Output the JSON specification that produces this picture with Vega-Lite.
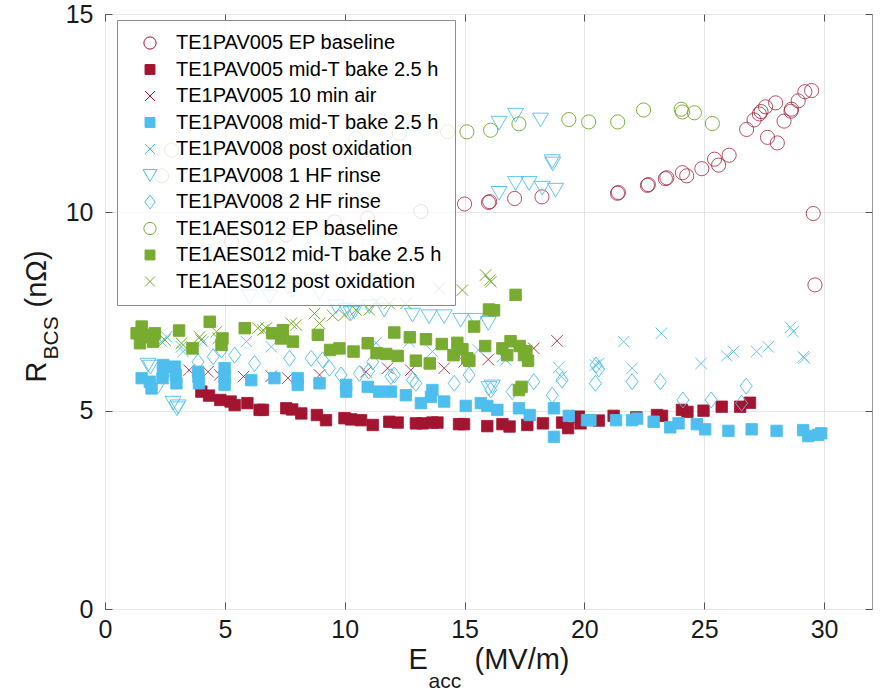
{
"$schema": "https://vega.github.io/schema/vega-lite/v6.json",
"width": 767, "height": 595,
"autosize": {"type": "none"},
"padding": {"left": 105, "top": 14, "right": 9, "bottom": 87},
"background": "white",
"config": {"font": "Liberation Sans", "view": {"stroke": "#999999", "strokeWidth": 1},
  "axis": {"labelFont": "Liberation Sans", "titleFont": "Liberation Sans", "titleFontWeight": "normal", "labelColor": "#1a1a1a", "titleColor": "#1a1a1a", "tickColor": "#555555", "gridColor": "#e6e6e6", "gridWidth": 1, "labelFlush": false}},
"datasets": {
"dummy": [{"E": 0, "R": 0}],
"pts": [
{"s":"TE1PAV005 EP baseline","E":5.27,"R":9.26},{"s":"TE1PAV005 EP baseline","E":7.56,"R":9.43},{"s":"TE1PAV005 EP baseline","E":9.57,"R":9.76},{"s":"TE1PAV005 EP baseline","E":10.96,"R":9.85},{"s":"TE1PAV005 EP baseline","E":13.18,"R":10.02},{"s":"TE1PAV005 EP baseline","E":15.0,"R":10.21},{"s":"TE1PAV005 EP baseline","E":16.0,"R":10.25},{"s":"TE1PAV005 EP baseline","E":16.05,"R":10.27},{"s":"TE1PAV005 EP baseline","E":17.09,"R":10.35},{"s":"TE1PAV005 EP baseline","E":18.23,"R":10.39},{"s":"TE1PAV005 EP baseline","E":21.38,"R":10.48},{"s":"TE1PAV005 EP baseline","E":21.42,"R":10.5},{"s":"TE1PAV005 EP baseline","E":22.63,"R":10.68},{"s":"TE1PAV005 EP baseline","E":22.67,"R":10.7},{"s":"TE1PAV005 EP baseline","E":23.38,"R":10.85},{"s":"TE1PAV005 EP baseline","E":23.44,"R":10.87},{"s":"TE1PAV005 EP baseline","E":24.09,"R":11.0},{"s":"TE1PAV005 EP baseline","E":24.27,"R":10.92},{"s":"TE1PAV005 EP baseline","E":24.9,"R":11.1},{"s":"TE1PAV005 EP baseline","E":25.43,"R":11.34},{"s":"TE1PAV005 EP baseline","E":25.6,"R":11.19},{"s":"TE1PAV005 EP baseline","E":26.04,"R":11.44},{"s":"TE1PAV005 EP baseline","E":26.77,"R":12.09},{"s":"TE1PAV005 EP baseline","E":27.08,"R":12.33},{"s":"TE1PAV005 EP baseline","E":27.3,"R":12.48},{"s":"TE1PAV005 EP baseline","E":27.37,"R":12.54},{"s":"TE1PAV005 EP baseline","E":27.56,"R":12.66},{"s":"TE1PAV005 EP baseline","E":27.98,"R":12.76},{"s":"TE1PAV005 EP baseline","E":27.64,"R":11.89},{"s":"TE1PAV005 EP baseline","E":28.05,"R":11.75},{"s":"TE1PAV005 EP baseline","E":28.33,"R":12.3},{"s":"TE1PAV005 EP baseline","E":28.62,"R":12.55},{"s":"TE1PAV005 EP baseline","E":28.64,"R":12.6},{"s":"TE1PAV005 EP baseline","E":28.92,"R":12.81},{"s":"TE1PAV005 EP baseline","E":29.2,"R":13.04},{"s":"TE1PAV005 EP baseline","E":29.48,"R":13.07},{"s":"TE1PAV005 EP baseline","E":29.55,"R":9.97},{"s":"TE1PAV005 EP baseline","E":29.62,"R":8.17},
{"s":"TE1PAV005 mid-T bake 2.5 h","E":4.02,"R":5.48},{"s":"TE1PAV005 mid-T bake 2.5 h","E":4.34,"R":5.38},{"s":"TE1PAV005 mid-T bake 2.5 h","E":4.81,"R":5.27},{"s":"TE1PAV005 mid-T bake 2.5 h","E":5.24,"R":5.23},{"s":"TE1PAV005 mid-T bake 2.5 h","E":5.41,"R":5.14},{"s":"TE1PAV005 mid-T bake 2.5 h","E":5.94,"R":5.19},{"s":"TE1PAV005 mid-T bake 2.5 h","E":6.45,"R":5.02},{"s":"TE1PAV005 mid-T bake 2.5 h","E":6.59,"R":5.02},{"s":"TE1PAV005 mid-T bake 2.5 h","E":7.56,"R":5.06},{"s":"TE1PAV005 mid-T bake 2.5 h","E":7.81,"R":5.03},{"s":"TE1PAV005 mid-T bake 2.5 h","E":8.19,"R":4.93},{"s":"TE1PAV005 mid-T bake 2.5 h","E":8.84,"R":4.89},{"s":"TE1PAV005 mid-T bake 2.5 h","E":9.22,"R":4.76},{"s":"TE1PAV005 mid-T bake 2.5 h","E":9.99,"R":4.81},{"s":"TE1PAV005 mid-T bake 2.5 h","E":10.27,"R":4.78},{"s":"TE1PAV005 mid-T bake 2.5 h","E":10.68,"R":4.76},{"s":"TE1PAV005 mid-T bake 2.5 h","E":11.17,"R":4.64},{"s":"TE1PAV005 mid-T bake 2.5 h","E":11.86,"R":4.72},{"s":"TE1PAV005 mid-T bake 2.5 h","E":12.21,"R":4.7},{"s":"TE1PAV005 mid-T bake 2.5 h","E":12.97,"R":4.68},{"s":"TE1PAV005 mid-T bake 2.5 h","E":13.25,"R":4.68},{"s":"TE1PAV005 mid-T bake 2.5 h","E":13.66,"R":4.7},{"s":"TE1PAV005 mid-T bake 2.5 h","E":13.87,"R":4.7},{"s":"TE1PAV005 mid-T bake 2.5 h","E":14.77,"R":4.66},{"s":"TE1PAV005 mid-T bake 2.5 h","E":14.98,"R":4.66},{"s":"TE1PAV005 mid-T bake 2.5 h","E":15.95,"R":4.61},{"s":"TE1PAV005 mid-T bake 2.5 h","E":16.58,"R":4.66},{"s":"TE1PAV005 mid-T bake 2.5 h","E":16.88,"R":4.6},{"s":"TE1PAV005 mid-T bake 2.5 h","E":17.62,"R":4.64},{"s":"TE1PAV005 mid-T bake 2.5 h","E":18.27,"R":4.68},{"s":"TE1PAV005 mid-T bake 2.5 h","E":19.07,"R":4.7},{"s":"TE1PAV005 mid-T bake 2.5 h","E":19.32,"R":4.56},{"s":"TE1PAV005 mid-T bake 2.5 h","E":19.77,"R":4.85},{"s":"TE1PAV005 mid-T bake 2.5 h","E":19.84,"R":4.68},{"s":"TE1PAV005 mid-T bake 2.5 h","E":20.6,"R":4.75},{"s":"TE1PAV005 mid-T bake 2.5 h","E":21.22,"R":4.87},{"s":"TE1PAV005 mid-T bake 2.5 h","E":22.17,"R":4.83},{"s":"TE1PAV005 mid-T bake 2.5 h","E":23.03,"R":4.89},{"s":"TE1PAV005 mid-T bake 2.5 h","E":23.24,"R":4.87},{"s":"TE1PAV005 mid-T bake 2.5 h","E":24.07,"R":5.02},{"s":"TE1PAV005 mid-T bake 2.5 h","E":24.3,"R":4.97},{"s":"TE1PAV005 mid-T bake 2.5 h","E":24.97,"R":5.0},{"s":"TE1PAV005 mid-T bake 2.5 h","E":25.73,"R":5.1},{"s":"TE1PAV005 mid-T bake 2.5 h","E":26.5,"R":5.1},{"s":"TE1PAV005 mid-T bake 2.5 h","E":26.91,"R":5.2},
{"s":"TE1PAV005 10 min air","E":2.43,"R":6.02},{"s":"TE1PAV005 10 min air","E":3.51,"R":6.02},{"s":"TE1PAV005 10 min air","E":4.3,"R":5.98},{"s":"TE1PAV005 10 min air","E":4.79,"R":5.9},{"s":"TE1PAV005 10 min air","E":5.78,"R":5.86},{"s":"TE1PAV005 10 min air","E":6.94,"R":5.87},{"s":"TE1PAV005 10 min air","E":7.63,"R":5.82},{"s":"TE1PAV005 10 min air","E":8.95,"R":5.9},{"s":"TE1PAV005 10 min air","E":10.89,"R":5.98},{"s":"TE1PAV005 10 min air","E":11.79,"R":6.07},{"s":"TE1PAV005 10 min air","E":12.76,"R":6.02},{"s":"TE1PAV005 10 min air","E":14.15,"R":6.07},{"s":"TE1PAV005 10 min air","E":14.98,"R":6.23},{"s":"TE1PAV005 10 min air","E":15.99,"R":6.29},{"s":"TE1PAV005 10 min air","E":17.89,"R":6.57},{"s":"TE1PAV005 10 min air","E":18.86,"R":6.76},
{"s":"TE1PAV008 mid-T bake 2.5 h","E":1.53,"R":5.82},{"s":"TE1PAV008 mid-T bake 2.5 h","E":1.87,"R":5.73},{"s":"TE1PAV008 mid-T bake 2.5 h","E":1.94,"R":5.56},{"s":"TE1PAV008 mid-T bake 2.5 h","E":2.43,"R":6.15},{"s":"TE1PAV008 mid-T bake 2.5 h","E":2.42,"R":5.98},{"s":"TE1PAV008 mid-T bake 2.5 h","E":2.4,"R":5.82},{"s":"TE1PAV008 mid-T bake 2.5 h","E":2.91,"R":6.11},{"s":"TE1PAV008 mid-T bake 2.5 h","E":2.95,"R":5.9},{"s":"TE1PAV008 mid-T bake 2.5 h","E":2.98,"R":5.69},{"s":"TE1PAV008 mid-T bake 2.5 h","E":3.88,"R":5.98},{"s":"TE1PAV008 mid-T bake 2.5 h","E":3.9,"R":5.85},{"s":"TE1PAV008 mid-T bake 2.5 h","E":3.92,"R":5.69},{"s":"TE1PAV008 mid-T bake 2.5 h","E":4.99,"R":6.07},{"s":"TE1PAV008 mid-T bake 2.5 h","E":4.99,"R":5.85},{"s":"TE1PAV008 mid-T bake 2.5 h","E":4.99,"R":5.65},{"s":"TE1PAV008 mid-T bake 2.5 h","E":6.1,"R":5.77},{"s":"TE1PAV008 mid-T bake 2.5 h","E":7.07,"R":5.82},{"s":"TE1PAV008 mid-T bake 2.5 h","E":8.04,"R":5.82},{"s":"TE1PAV008 mid-T bake 2.5 h","E":8.04,"R":5.65},{"s":"TE1PAV008 mid-T bake 2.5 h","E":8.95,"R":5.69},{"s":"TE1PAV008 mid-T bake 2.5 h","E":10.06,"R":5.65},{"s":"TE1PAV008 mid-T bake 2.5 h","E":10.06,"R":5.48},{"s":"TE1PAV008 mid-T bake 2.5 h","E":10.96,"R":5.6},{"s":"TE1PAV008 mid-T bake 2.5 h","E":11.44,"R":5.48},{"s":"TE1PAV008 mid-T bake 2.5 h","E":11.93,"R":5.48},{"s":"TE1PAV008 mid-T bake 2.5 h","E":12.55,"R":5.39},{"s":"TE1PAV008 mid-T bake 2.5 h","E":13.18,"R":5.19},{"s":"TE1PAV008 mid-T bake 2.5 h","E":13.6,"R":5.35},{"s":"TE1PAV008 mid-T bake 2.5 h","E":13.66,"R":5.52},{"s":"TE1PAV008 mid-T bake 2.5 h","E":14.15,"R":5.23},{"s":"TE1PAV008 mid-T bake 2.5 h","E":15.05,"R":5.12},{"s":"TE1PAV008 mid-T bake 2.5 h","E":15.68,"R":5.19},{"s":"TE1PAV008 mid-T bake 2.5 h","E":15.95,"R":5.12},{"s":"TE1PAV008 mid-T bake 2.5 h","E":16.37,"R":5.02},{"s":"TE1PAV008 mid-T bake 2.5 h","E":17.27,"R":5.06},{"s":"TE1PAV008 mid-T bake 2.5 h","E":17.72,"R":4.89},{"s":"TE1PAV008 mid-T bake 2.5 h","E":18.73,"R":5.06},{"s":"TE1PAV008 mid-T bake 2.5 h","E":18.73,"R":4.34},{"s":"TE1PAV008 mid-T bake 2.5 h","E":19.35,"R":4.87},{"s":"TE1PAV008 mid-T bake 2.5 h","E":20.11,"R":4.76},{"s":"TE1PAV008 mid-T bake 2.5 h","E":20.25,"R":4.76},{"s":"TE1PAV008 mid-T bake 2.5 h","E":21.32,"R":4.76},{"s":"TE1PAV008 mid-T bake 2.5 h","E":21.99,"R":4.76},{"s":"TE1PAV008 mid-T bake 2.5 h","E":22.2,"R":4.8},{"s":"TE1PAV008 mid-T bake 2.5 h","E":22.89,"R":4.72},{"s":"TE1PAV008 mid-T bake 2.5 h","E":23.58,"R":4.58},{"s":"TE1PAV008 mid-T bake 2.5 h","E":23.93,"R":4.68},{"s":"TE1PAV008 mid-T bake 2.5 h","E":24.69,"R":4.66},{"s":"TE1PAV008 mid-T bake 2.5 h","E":25.04,"R":4.53},{"s":"TE1PAV008 mid-T bake 2.5 h","E":26.01,"R":4.49},{"s":"TE1PAV008 mid-T bake 2.5 h","E":26.98,"R":4.53},{"s":"TE1PAV008 mid-T bake 2.5 h","E":28.02,"R":4.49},{"s":"TE1PAV008 mid-T bake 2.5 h","E":29.13,"R":4.51},{"s":"TE1PAV008 mid-T bake 2.5 h","E":29.34,"R":4.36},{"s":"TE1PAV008 mid-T bake 2.5 h","E":29.75,"R":4.39},{"s":"TE1PAV008 mid-T bake 2.5 h","E":29.88,"R":4.43},
{"s":"TE1PAV008 post oxidation","E":2.36,"R":6.74},{"s":"TE1PAV008 post oxidation","E":2.57,"R":6.86},{"s":"TE1PAV008 post oxidation","E":3.19,"R":6.61},{"s":"TE1PAV008 post oxidation","E":3.26,"R":6.49},{"s":"TE1PAV008 post oxidation","E":4.09,"R":6.74},{"s":"TE1PAV008 post oxidation","E":5.9,"R":6.74},{"s":"TE1PAV008 post oxidation","E":6.94,"R":6.61},{"s":"TE1PAV008 post oxidation","E":11.31,"R":6.71},{"s":"TE1PAV008 post oxidation","E":12.69,"R":6.74},{"s":"TE1PAV008 post oxidation","E":13.66,"R":6.49},{"s":"TE1PAV008 post oxidation","E":15.58,"R":6.53},{"s":"TE1PAV008 post oxidation","E":16.58,"R":6.36},{"s":"TE1PAV008 post oxidation","E":16.72,"R":6.28},{"s":"TE1PAV008 post oxidation","E":18.93,"R":6.09},{"s":"TE1PAV008 post oxidation","E":19.04,"R":5.86},{"s":"TE1PAV008 post oxidation","E":20.46,"R":6.15},{"s":"TE1PAV008 post oxidation","E":20.6,"R":6.19},{"s":"TE1PAV008 post oxidation","E":21.64,"R":6.74},{"s":"TE1PAV008 post oxidation","E":21.99,"R":6.07},{"s":"TE1PAV008 post oxidation","E":23.21,"R":6.95},{"s":"TE1PAV008 post oxidation","E":24.87,"R":6.19},{"s":"TE1PAV008 post oxidation","E":25.94,"R":6.38},{"s":"TE1PAV008 post oxidation","E":26.22,"R":6.49},{"s":"TE1PAV008 post oxidation","E":27.19,"R":6.49},{"s":"TE1PAV008 post oxidation","E":27.67,"R":6.61},{"s":"TE1PAV008 post oxidation","E":28.6,"R":7.1},{"s":"TE1PAV008 post oxidation","E":28.71,"R":6.99},{"s":"TE1PAV008 post oxidation","E":29.13,"R":6.36},{"s":"TE1PAV008 post oxidation","E":29.18,"R":6.33},
{"s":"TE1PAV008 1 HF rinse","E":1.8,"R":6.15},{"s":"TE1PAV008 1 HF rinse","E":1.9,"R":6.1},{"s":"TE1PAV008 1 HF rinse","E":2.22,"R":5.6},{"s":"TE1PAV008 1 HF rinse","E":2.84,"R":5.19},{"s":"TE1PAV008 1 HF rinse","E":3.05,"R":5.1},{"s":"TE1PAV008 1 HF rinse","E":3.0,"R":5.05},{"s":"TE1PAV008 1 HF rinse","E":6.03,"R":7.87},{"s":"TE1PAV008 1 HF rinse","E":6.87,"R":7.87},{"s":"TE1PAV008 1 HF rinse","E":7.63,"R":8.12},{"s":"TE1PAV008 1 HF rinse","E":7.83,"R":8.04},{"s":"TE1PAV008 1 HF rinse","E":8.95,"R":7.96},{"s":"TE1PAV008 1 HF rinse","E":9.64,"R":7.62},{"s":"TE1PAV008 1 HF rinse","E":10.06,"R":7.54},{"s":"TE1PAV008 1 HF rinse","E":10.27,"R":7.45},{"s":"TE1PAV008 1 HF rinse","E":10.4,"R":7.5},{"s":"TE1PAV008 1 HF rinse","E":11.03,"R":7.62},{"s":"TE1PAV008 1 HF rinse","E":11.65,"R":7.54},{"s":"TE1PAV008 1 HF rinse","E":12.83,"R":7.41},{"s":"TE1PAV008 1 HF rinse","E":13.52,"R":7.37},{"s":"TE1PAV008 1 HF rinse","E":14.15,"R":7.37},{"s":"TE1PAV008 1 HF rinse","E":14.84,"R":7.28},{"s":"TE1PAV008 1 HF rinse","E":15.47,"R":7.28},{"s":"TE1PAV008 1 HF rinse","E":15.99,"R":7.2},{"s":"TE1PAV008 1 HF rinse","E":16.02,"R":5.56},{"s":"TE1PAV008 1 HF rinse","E":16.16,"R":5.6},{"s":"TE1PAV008 1 HF rinse","E":16.44,"R":12.25},{"s":"TE1PAV008 1 HF rinse","E":17.13,"R":12.45},{"s":"TE1PAV008 1 HF rinse","E":18.17,"R":12.33},{"s":"TE1PAV008 1 HF rinse","E":18.66,"R":11.28},{"s":"TE1PAV008 1 HF rinse","E":18.68,"R":11.22},{"s":"TE1PAV008 1 HF rinse","E":16.44,"R":10.48},{"s":"TE1PAV008 1 HF rinse","E":17.13,"R":10.73},{"s":"TE1PAV008 1 HF rinse","E":17.69,"R":10.73},{"s":"TE1PAV008 1 HF rinse","E":18.24,"R":10.61},{"s":"TE1PAV008 1 HF rinse","E":18.8,"R":10.56},
{"s":"TE1PAV008 2 HF rinse","E":3.88,"R":6.23},{"s":"TE1PAV008 2 HF rinse","E":4.51,"R":6.36},{"s":"TE1PAV008 2 HF rinse","E":4.86,"R":6.53},{"s":"TE1PAV008 2 HF rinse","E":5.41,"R":6.4},{"s":"TE1PAV008 2 HF rinse","E":6.24,"R":6.19},{"s":"TE1PAV008 2 HF rinse","E":7.7,"R":6.32},{"s":"TE1PAV008 2 HF rinse","E":8.6,"R":6.32},{"s":"TE1PAV008 2 HF rinse","E":9.08,"R":6.28},{"s":"TE1PAV008 2 HF rinse","E":9.36,"R":6.07},{"s":"TE1PAV008 2 HF rinse","E":9.85,"R":5.9},{"s":"TE1PAV008 2 HF rinse","E":10.61,"R":5.94},{"s":"TE1PAV008 2 HF rinse","E":11.0,"R":6.0},{"s":"TE1PAV008 2 HF rinse","E":11.17,"R":6.23},{"s":"TE1PAV008 2 HF rinse","E":11.93,"R":5.86},{"s":"TE1PAV008 2 HF rinse","E":12.07,"R":5.9},{"s":"TE1PAV008 2 HF rinse","E":12.83,"R":5.77},{"s":"TE1PAV008 2 HF rinse","E":12.97,"R":5.69},{"s":"TE1PAV008 2 HF rinse","E":14.57,"R":5.69},{"s":"TE1PAV008 2 HF rinse","E":15.19,"R":5.9},{"s":"TE1PAV008 2 HF rinse","E":16.09,"R":5.52},{"s":"TE1PAV008 2 HF rinse","E":16.99,"R":5.48},{"s":"TE1PAV008 2 HF rinse","E":17.89,"R":5.73},{"s":"TE1PAV008 2 HF rinse","E":18.66,"R":5.39},{"s":"TE1PAV008 2 HF rinse","E":19.07,"R":5.77},{"s":"TE1PAV008 2 HF rinse","E":20.46,"R":5.69},{"s":"TE1PAV008 2 HF rinse","E":20.49,"R":6.15},{"s":"TE1PAV008 2 HF rinse","E":20.6,"R":6.05},{"s":"TE1PAV008 2 HF rinse","E":21.99,"R":5.73},{"s":"TE1PAV008 2 HF rinse","E":23.17,"R":5.73},{"s":"TE1PAV008 2 HF rinse","E":24.11,"R":5.27},{"s":"TE1PAV008 2 HF rinse","E":25.29,"R":5.27},{"s":"TE1PAV008 2 HF rinse","E":26.56,"R":5.19},{"s":"TE1PAV008 2 HF rinse","E":26.75,"R":5.62},
{"s":"TE1AES012 EP baseline","E":2.36,"R":10.92},{"s":"TE1AES012 EP baseline","E":2.78,"R":11.57},{"s":"TE1AES012 EP baseline","E":10.47,"R":11.86},{"s":"TE1AES012 EP baseline","E":12.28,"R":11.99},{"s":"TE1AES012 EP baseline","E":14.29,"R":12.03},{"s":"TE1AES012 EP baseline","E":15.1,"R":12.03},{"s":"TE1AES012 EP baseline","E":16.09,"R":12.07},{"s":"TE1AES012 EP baseline","E":17.27,"R":12.23},{"s":"TE1AES012 EP baseline","E":19.35,"R":12.34},{"s":"TE1AES012 EP baseline","E":20.18,"R":12.28},{"s":"TE1AES012 EP baseline","E":21.39,"R":12.28},{"s":"TE1AES012 EP baseline","E":22.47,"R":12.58},{"s":"TE1AES012 EP baseline","E":24.04,"R":12.6},{"s":"TE1AES012 EP baseline","E":24.09,"R":12.53},{"s":"TE1AES012 EP baseline","E":24.59,"R":12.51},{"s":"TE1AES012 EP baseline","E":25.34,"R":12.24},
{"s":"TE1AES012 mid-T bake 2.5 h","E":1.32,"R":6.95},{"s":"TE1AES012 mid-T bake 2.5 h","E":1.53,"R":7.12},{"s":"TE1AES012 mid-T bake 2.5 h","E":1.46,"R":6.7},{"s":"TE1AES012 mid-T bake 2.5 h","E":1.6,"R":6.85},{"s":"TE1AES012 mid-T bake 2.5 h","E":1.73,"R":6.91},{"s":"TE1AES012 mid-T bake 2.5 h","E":2.08,"R":6.95},{"s":"TE1AES012 mid-T bake 2.5 h","E":2.01,"R":6.74},{"s":"TE1AES012 mid-T bake 2.5 h","E":3.09,"R":7.02},{"s":"TE1AES012 mid-T bake 2.5 h","E":3.65,"R":6.57},{"s":"TE1AES012 mid-T bake 2.5 h","E":4.37,"R":7.24},{"s":"TE1AES012 mid-T bake 2.5 h","E":4.9,"R":6.82},{"s":"TE1AES012 mid-T bake 2.5 h","E":4.86,"R":6.66},{"s":"TE1AES012 mid-T bake 2.5 h","E":5.83,"R":7.08},{"s":"TE1AES012 mid-T bake 2.5 h","E":6.98,"R":6.95},{"s":"TE1AES012 mid-T bake 2.5 h","E":7.42,"R":7.03},{"s":"TE1AES012 mid-T bake 2.5 h","E":7.35,"R":6.82},{"s":"TE1AES012 mid-T bake 2.5 h","E":7.84,"R":6.74},{"s":"TE1AES012 mid-T bake 2.5 h","E":8.88,"R":6.91},{"s":"TE1AES012 mid-T bake 2.5 h","E":9.39,"R":6.53},{"s":"TE1AES012 mid-T bake 2.5 h","E":9.78,"R":6.57},{"s":"TE1AES012 mid-T bake 2.5 h","E":10.37,"R":6.49},{"s":"TE1AES012 mid-T bake 2.5 h","E":10.96,"R":6.7},{"s":"TE1AES012 mid-T bake 2.5 h","E":11.33,"R":6.45},{"s":"TE1AES012 mid-T bake 2.5 h","E":11.73,"R":6.43},{"s":"TE1AES012 mid-T bake 2.5 h","E":12.07,"R":6.97},{"s":"TE1AES012 mid-T bake 2.5 h","E":12.21,"R":6.38},{"s":"TE1AES012 mid-T bake 2.5 h","E":12.72,"R":6.85},{"s":"TE1AES012 mid-T bake 2.5 h","E":12.97,"R":6.26},{"s":"TE1AES012 mid-T bake 2.5 h","E":13.39,"R":6.8},{"s":"TE1AES012 mid-T bake 2.5 h","E":13.55,"R":6.19},{"s":"TE1AES012 mid-T bake 2.5 h","E":14.05,"R":6.68},{"s":"TE1AES012 mid-T bake 2.5 h","E":14.54,"R":6.4},{"s":"TE1AES012 mid-T bake 2.5 h","E":14.7,"R":6.71},{"s":"TE1AES012 mid-T bake 2.5 h","E":14.91,"R":6.55},{"s":"TE1AES012 mid-T bake 2.5 h","E":15.12,"R":6.32},{"s":"TE1AES012 mid-T bake 2.5 h","E":15.2,"R":6.26},{"s":"TE1AES012 mid-T bake 2.5 h","E":15.4,"R":7.12},{"s":"TE1AES012 mid-T bake 2.5 h","E":15.86,"R":6.63},{"s":"TE1AES012 mid-T bake 2.5 h","E":16.02,"R":7.55},{"s":"TE1AES012 mid-T bake 2.5 h","E":16.23,"R":7.53},{"s":"TE1AES012 mid-T bake 2.5 h","E":16.58,"R":6.57},{"s":"TE1AES012 mid-T bake 2.5 h","E":16.78,"R":6.4},{"s":"TE1AES012 mid-T bake 2.5 h","E":16.92,"R":6.75},{"s":"TE1AES012 mid-T bake 2.5 h","E":17.13,"R":7.92},{"s":"TE1AES012 mid-T bake 2.5 h","E":17.3,"R":6.63},{"s":"TE1AES012 mid-T bake 2.5 h","E":17.48,"R":6.4},{"s":"TE1AES012 mid-T bake 2.5 h","E":17.58,"R":6.5},{"s":"TE1AES012 mid-T bake 2.5 h","E":17.65,"R":6.26},{"s":"TE1AES012 mid-T bake 2.5 h","E":17.27,"R":5.52},{"s":"TE1AES012 mid-T bake 2.5 h","E":17.38,"R":5.6},
{"s":"TE1AES012 post oxidation","E":2.5,"R":6.78},{"s":"TE1AES012 post oxidation","E":3.19,"R":6.7},{"s":"TE1AES012 post oxidation","E":3.95,"R":6.86},{"s":"TE1AES012 post oxidation","E":4.01,"R":6.78},{"s":"TE1AES012 post oxidation","E":4.65,"R":6.99},{"s":"TE1AES012 post oxidation","E":4.72,"R":6.82},{"s":"TE1AES012 post oxidation","E":6.38,"R":7.08},{"s":"TE1AES012 post oxidation","E":6.59,"R":7.03},{"s":"TE1AES012 post oxidation","E":6.73,"R":7.08},{"s":"TE1AES012 post oxidation","E":7.77,"R":7.2},{"s":"TE1AES012 post oxidation","E":7.98,"R":7.16},{"s":"TE1AES012 post oxidation","E":8.74,"R":7.45},{"s":"TE1AES012 post oxidation","E":8.95,"R":7.2},{"s":"TE1AES012 post oxidation","E":9.5,"R":7.4},{"s":"TE1AES012 post oxidation","E":9.99,"R":7.41},{"s":"TE1AES012 post oxidation","E":10.47,"R":7.54},{"s":"TE1AES012 post oxidation","E":11.03,"R":7.54},{"s":"TE1AES012 post oxidation","E":11.31,"R":7.75},{"s":"TE1AES012 post oxidation","E":11.86,"R":7.7},{"s":"TE1AES012 post oxidation","E":12.55,"R":7.7},{"s":"TE1AES012 post oxidation","E":13.94,"R":8.08},{"s":"TE1AES012 post oxidation","E":14.91,"R":8.04},{"s":"TE1AES012 post oxidation","E":15.88,"R":8.42},{"s":"TE1AES012 post oxidation","E":16.05,"R":8.29},{"s":"TE1AES012 post oxidation","E":16.1,"R":8.25}
]},
"layer": [
{"data": {"name": "pts"},
 "mark": {"type": "point", "strokeWidth": 1, "opacity": 1, "size": 200},
 "encoding": {
  "x": {"field": "E", "type": "quantitative", "scale": {"domain": [0, 32], "nice": false, "zero": false},
    "axis": {"orient": "bottom", "values": [0,5,10,15,20,25,30], "labelFontSize": 25, "labelPadding": 8, "ticks": false, "tickSize": 0, "domain": false, "grid": true,
      "title": "E", "titleFontSize": 29, "titleX": 303, "titleY": 59, "titleAlign": "left", "titleBaseline": "alphabetic", "titleAngle": 0}},
  "y": {"field": "R", "type": "quantitative", "scale": {"domain": [0, 15], "nice": false, "zero": false},
    "axis": {"orient": "left", "values": [0,5,10,15], "labelFontSize": 25, "labelPadding": 12, "ticks": false, "tickSize": 0, "domain": false, "grid": true,
      "title": "R", "titleFontSize": 29, "titleX": -60, "titleY": 368, "titleAlign": "left", "titleBaseline": "alphabetic", "titleAngle": 270}},
  "stroke": {"field": "s", "type": "nominal",
    "scale": {"domain": ["TE1PAV005 EP baseline","TE1PAV005 mid-T bake 2.5 h","TE1PAV005 10 min air","TE1PAV008 mid-T bake 2.5 h","TE1PAV008 post oxidation","TE1PAV008 1 HF rinse","TE1PAV008 2 HF rinse","TE1AES012 EP baseline","TE1AES012 mid-T bake 2.5 h","TE1AES012 post oxidation"],
      "range": ["#A2142F","#A2142F","#A2142F","#4DBEEE","#4DBEEE","#4DBEEE","#4DBEEE","#77AC30","#77AC30","#77AC30"]},
    "legend": {"orient": "none", "legendX": 12, "legendY": 6, "title": null, "labelFontSize": 20, "labelFont": "Liberation Sans", "labelColor": "#000000", "symbolSize": 150, "symbolStrokeWidth": 1, "rowPadding": 6.5, "padding": 13, "symbolOffset": 10, "labelOffset": 16, "strokeColor": "#8c8c8c", "fillColor": "rgba(255,255,255,0.8)", "labelLimit": 400}},
  "fill": {"field": "s", "type": "nominal",
    "scale": {"domain": ["TE1PAV005 EP baseline","TE1PAV005 mid-T bake 2.5 h","TE1PAV005 10 min air","TE1PAV008 mid-T bake 2.5 h","TE1PAV008 post oxidation","TE1PAV008 1 HF rinse","TE1PAV008 2 HF rinse","TE1AES012 EP baseline","TE1AES012 mid-T bake 2.5 h","TE1AES012 post oxidation"],
      "range": ["transparent","#A2142F","transparent","#4DBEEE","transparent","transparent","transparent","transparent","#77AC30","transparent"]}},
  "shape": {"field": "s", "type": "nominal",
    "scale": {"domain": ["TE1PAV005 EP baseline","TE1PAV005 mid-T bake 2.5 h","TE1PAV005 10 min air","TE1PAV008 mid-T bake 2.5 h","TE1PAV008 post oxidation","TE1PAV008 1 HF rinse","TE1PAV008 2 HF rinse","TE1AES012 EP baseline","TE1AES012 mid-T bake 2.5 h","TE1AES012 post oxidation"],
      "range": ["circle","M-0.81,-0.81H0.81V0.81H-0.81Z","M-0.81,-0.81L0.81,0.81M-0.81,0.81L0.81,-0.81","M-0.81,-0.81H0.81V0.81H-0.81Z","M-0.81,-0.81L0.81,0.81M-0.81,0.81L0.81,-0.81","M0,0.98L1.13,-0.96L-1.13,-0.96Z","M0,-1.13L0.85,0L0,1.13L-0.85,0Z","circle","M-0.81,-0.81H0.81V0.81H-0.81Z","M-0.81,-0.81L0.81,0.81M-0.81,0.81L0.81,-0.81"]}},
  "strokeOpacity": {"field": "s", "type": "nominal",
    "scale": {"domain": ["TE1PAV005 EP baseline","TE1PAV005 mid-T bake 2.5 h","TE1PAV005 10 min air","TE1PAV008 mid-T bake 2.5 h","TE1PAV008 post oxidation","TE1PAV008 1 HF rinse","TE1PAV008 2 HF rinse","TE1AES012 EP baseline","TE1AES012 mid-T bake 2.5 h","TE1AES012 post oxidation"],
      "range": [0.75,1,0.75,1,0.75,0.75,0.75,0.75,1,0.75]}}
 }},
{"data": {"name": "dummy"},
 "mark": {"type": "point", "opacity": 0},
 "encoding": {
  "x": {"field": "E", "type": "quantitative", "scale": {"domain": [0, 32], "nice": false, "zero": false},
    "axis": {"orient": "bottom", "values": [0,5,10,15,20,25,30], "labels": false, "ticks": true, "tickSize": -7, "domain": false, "grid": false,
      "title": "acc", "titleFontSize": 21, "titleX": 323, "titleY": 78, "titleAlign": "left", "titleBaseline": "alphabetic", "titleAngle": 0}},
  "y": {"field": "R", "type": "quantitative", "scale": {"domain": [0, 15], "nice": false, "zero": false},
    "axis": {"orient": "left", "values": [0,5,10,15], "labels": false, "ticks": true, "tickSize": -7, "domain": false, "grid": false,
      "title": "BCS", "titleFontSize": 21, "titleX": -48, "titleY": 345, "titleAlign": "left", "titleBaseline": "alphabetic", "titleAngle": 270}}
 }},
{"data": {"name": "dummy"},
 "mark": {"type": "point", "opacity": 0},
 "encoding": {
  "x": {"field": "E", "type": "quantitative", "scale": {"domain": [0, 32], "nice": false, "zero": false},
    "axis": {"orient": "bottom", "labels": false, "ticks": false, "domain": false, "grid": false,
      "title": "(MV/m)", "titleFontSize": 29, "titleX": 369, "titleY": 59, "titleAlign": "left", "titleBaseline": "alphabetic", "titleAngle": 0}},
  "y": {"field": "R", "type": "quantitative", "scale": {"domain": [0, 15], "nice": false, "zero": false},
    "axis": {"orient": "left", "labels": false, "ticks": false, "domain": false, "grid": false,
      "title": "(nΩ)", "titleFontSize": 29, "titleX": -60, "titleY": 293, "titleAlign": "left", "titleBaseline": "alphabetic", "titleAngle": 270}}
 }},
{"data": {"name": "dummy"},
 "mark": {"type": "point", "opacity": 0},
 "encoding": {
  "x": {"field": "E", "type": "quantitative", "scale": {"domain": [0, 32], "nice": false, "zero": false},
    "axis": {"orient": "top", "values": [0,5,10,15,20,25,30], "labels": false, "ticks": true, "tickSize": -7, "domain": false, "grid": false, "title": null}},
  "y": {"field": "R", "type": "quantitative", "scale": {"domain": [0, 15], "nice": false, "zero": false},
    "axis": {"orient": "right", "values": [0,5,10,15], "labels": false, "ticks": true, "tickSize": -7, "domain": false, "grid": false, "title": null}}
 }}
],
"resolve": {"axis": {"x": "independent", "y": "independent"}}
}
